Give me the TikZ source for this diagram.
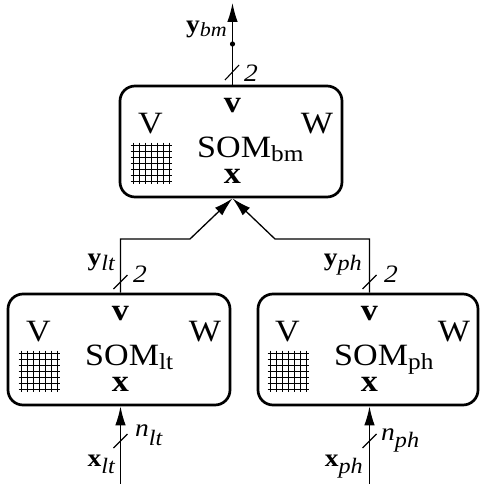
\documentclass[tikz,border=0pt]{standalone}
\usepackage{fontspec}
\setmainfont{Liberation Serif}
\usetikzlibrary{arrows.meta}
\newcommand\hs[1]{\scalebox{1.1}[1]{#1}}
\newcommand\bigfnt{\fontsize{31}{31}\selectfont}
\newcommand\boldfnt{\fontsize{31}{31}\selectfont\bfseries}
\newcommand\lblfnt{\fontsize{25}{25}\selectfont}
\newcommand\sublbl[2]{\raisebox{#1}{\fontsize{22}{22}\selectfont\itshape #2}}
\tikzset{
  sombox/.style={draw, line width=2.7pt, rounded corners=15pt, minimum height=111pt, inner sep=0pt},
  conn/.style={line width=1.3pt},
  arr/.style={conn, -{Latex[length=19pt,width=10.5pt]}},
  txt/.style={inner sep=0pt, anchor=base},
  gridln/.style={line width=0.95pt},
  slash/.style={line width=1.1pt}
}
% #1 name, #2 cx, #3 cy, #4 width, #5 subscript
\newcommand\somunit[5]{%
  \node[sombox, minimum width=#4pt] (#1) at (#2,#3) {};
  \begin{scope}[shift={(#2+1.5,#3)}]
    \node[txt] (#1-v) at (0,-29) {\hs{\boldfnt v}};
    \node[txt] (#1-V) at (-82,-8.5) {\hs{\bigfnt V}};
    \node[txt] (#1-W) at (84.5,-8.5) {\hs{\bigfnt W}};
    \node[txt, anchor=base west] (#1-som) at (-35.5,15.5) {\hs{\bigfnt SOM\raisebox{-4.5pt}{\fontsize{23}{23}\selectfont #5}}};
    \node[txt] (#1-x) at (0,42) {\hs{\boldfnt x}};
    \foreach \i in {0,...,6} {
      \draw[gridln] (-99.5+6*\i,1) -- (-99.5+6*\i,42);
      \draw[gridln] (-102,3.5+6*\i) -- (-61,3.5+6*\i);
    }
  \end{scope}
}
\begin{document}
\begin{tikzpicture}[x=1pt,y=-1pt]
\useasboundingbox (0,0) rectangle (479,484);

\somunit{bm}{231}{141.5}{222}{bm}
\somunit{lt}{119}{349.5}{222}{lt}
\somunit{ph}{368}{349.5}{220}{ph}

% top output
\coordinate (ybmtip) at (232.5,3);
\coordinate (ybmdot) at (232.5,44);
\draw[arr] ([xshift=1.5pt]bm.north) -- (ybmtip);
\fill (ybmdot) circle (2.6);
\draw[slash] (225,80) -- (239,65);
\node[txt, anchor=base west] (two-bm) at (244,82) {\hs{\lblfnt\itshape 2}};
\node[txt, anchor=base east] (lbl-ybm) at (227,33) {\hs{\lblfnt\textbf{y}\raisebox{-4pt}{\fontsize{20}{20}\selectfont\itshape bm}}};

% merge connectors
\coordinate (ltbend) at (190,239);
\coordinate (phbend) at (275,239);
\draw[arr] ([xshift=1.5pt]lt.north) |- (ltbend) -- ([xshift=1.5pt]bm.south);
\draw[arr] ([xshift=1.5pt]ph.north) |- (phbend) -- ([xshift=1.5pt]bm.south);
\draw[slash] (113.5,289) -- (127.5,275);
\node[txt, anchor=base west] (two-lt) at (133,282) {\hs{\lblfnt\itshape 2}};
\node[txt, anchor=base east] (lbl-ylt) at (115,265) {\hs{\lblfnt\textbf{y}\sublbl{-5pt}{lt}}};
\draw[slash] (362.5,289) -- (376.5,275);
\node[txt, anchor=base west] (two-ph) at (384,282) {\hs{\lblfnt\itshape 2}};
\node[txt, anchor=base east] (lbl-yph) at (362,265) {\hs{\lblfnt\textbf{y}\sublbl{-5pt}{ph}}};

% inputs
\coordinate (xltin) at (120.5,484);
\coordinate (xphin) at (369.5,484);
\draw[arr] (xltin) -- ([xshift=1.5pt]lt.south);
\draw[arr] (xphin) -- ([xshift=1.5pt]ph.south);
\draw[slash] (113.5,448) -- (127.5,434);
\draw[slash] (362.5,448) -- (376.5,434);
\node[txt, anchor=base west] (lbl-nlt) at (135,436) {\hs{\lblfnt\textit{n}\sublbl{-9pt}{lt}}};
\node[txt, anchor=base west] (lbl-nph) at (381,440) {\hs{\lblfnt\textit{n}\sublbl{-7pt}{ph}}};
\node[txt, anchor=base east] (lbl-xlt) at (115,466) {\hs{\lblfnt\textbf{x}\sublbl{-7pt}{lt}}};
\node[txt, anchor=base east] (lbl-xph) at (363,466) {\hs{\lblfnt\textbf{x}\sublbl{-7pt}{ph}}};
\end{tikzpicture}
\end{document}
